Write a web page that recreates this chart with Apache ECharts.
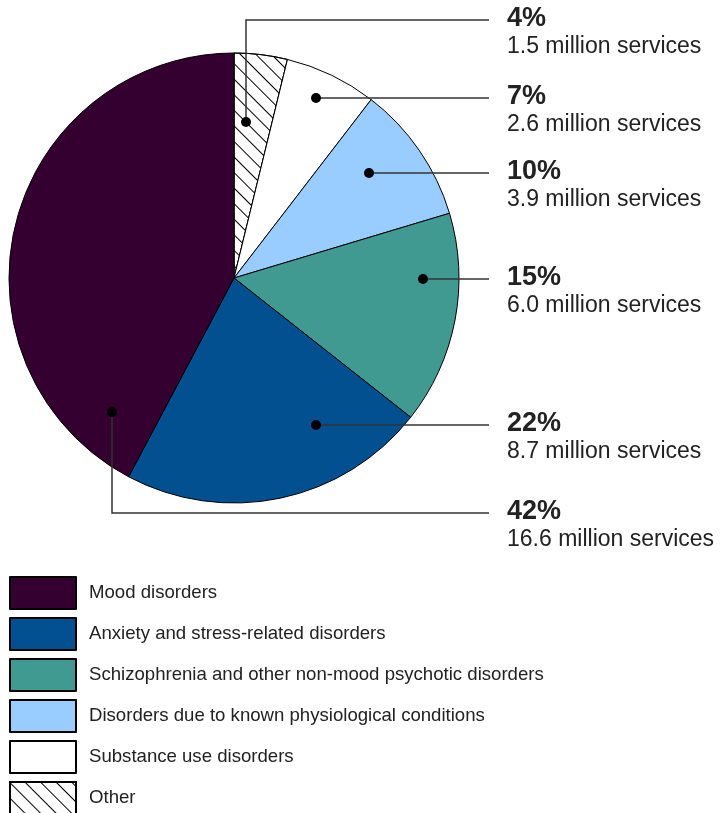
<!DOCTYPE html>
<html>
<head>
<meta charset="utf-8">
<script src="https://cdn.jsdelivr.net/npm/echarts@6/dist/echarts.min.js"></script>
<style>
html,body{margin:0;padding:0;background:#fff;}
#chart{width:724px;height:813px;}
</style>
</head>
<body>
<div id="chart"></div>
<script>
// Data
const categories = [
  'Other',
  'Substance use disorders',
  'Disorders due to known physiological conditions',
  'Schizophrenia and other non-mood psychotic disorders',
  'Anxiety and stress-related disorders',
  'Mood disorders'
];
const servicesMillions = [1.5, 2.6, 3.9, 6.0, 8.7, 16.6];
const percentLabels = [4, 7, 10, 15, 22, 42];
const legendOrder = [
  'Mood disorders',
  'Anxiety and stress-related disorders',
  'Schizophrenia and other non-mood psychotic disorders',
  'Disorders due to known physiological conditions',
  'Substance use disorders',
  'Other'
];
const colors = ['#ffffff', '#ffffff', '#99ccff', '#419a92', '#02508f', '#330030'];

// Layout / style
const CX = 234, CY = 278, R = 225;
const dotOffsets = [[12, -156], [82, -180], [135, -105], [189, 1], [82, 147], [-122, 134]];
const leaderY = [20, 98, 173, 279, 425, 513];
const leaderEndX = 489;
const labelX = 507;

const chart = echarts.init(document.getElementById('chart'));

const data = categories.map((name, i) => {
  const d = { name, value: servicesMillions[i], itemStyle: { color: colors[i] } };
  if (name === 'Other') {
    d.itemStyle.decal = {
      symbol: 'rect', symbolSize: 1,
      dashArrayX: [1, 0], dashArrayY: [1, 10],
      rotation: Math.PI / 4, color: '#000'
    };
  }
  return d;
});

const leaders = [];
dotOffsets.forEach((o, i) => {
  const dx = CX + o[0], dy = CY + o[1];
  leaders.push({
    type: 'polyline', z: 99,
    shape: { points: [[dx, dy], [dx, leaderY[i]], [leaderEndX, leaderY[i]]] },
    style: { stroke: '#333', lineWidth: 1.5, fill: null }
  });
  leaders.push({
    type: 'circle', z: 100,
    shape: { cx: dx, cy: dy, r: 5 },
    style: { fill: '#000' }
  });
});

chart.setOption({
  animation: false,
  backgroundColor: '#fff',
  legend: {
    orient: 'vertical',
    left: 9, top: 576,
    height: 300,
    padding: 0,
    itemWidth: 66, itemHeight: 32, itemGap: 7,
    icon: 'rect',
    data: legendOrder,
    selectedMode: false,
    textStyle: { fontFamily: 'Liberation Sans, Arial, sans-serif', fontSize: 18.6, color: '#222', padding: [0, 0, 0, 8] }
  },
  graphic: leaders,
  series: [{
    type: 'pie',
    center: [CX, CY],
    radius: R,
    startAngle: 90,
    clockwise: true,
    avoidLabelOverlap: false,
    emphasis: { disabled: true },
    itemStyle: { borderColor: '#000', borderWidth: 1 },
    data,
    label: {
      show: true,
      formatter: p => `{p|${percentLabels[p.dataIndex]}%}\n{s|${servicesMillions[p.dataIndex].toFixed(1)} million services}`,
      rich: {
        p: { fontFamily: 'Liberation Sans, Arial, sans-serif', fontSize: 27, fontWeight: 'bold', color: '#222', lineHeight: 28 },
        s: { fontFamily: 'Liberation Sans, Arial, sans-serif', fontSize: 23, color: '#222', lineHeight: 28 }
      }
    },
    labelLine: { show: false },
    labelLayout: params => {
      const i = params.dataIndex;
      return {
        x: labelX,
        y: leaderY[i] - 15.5,
        align: 'left',
        verticalAlign: 'top'
      };
    }
  }]
});
</script>
</body>
</html>
